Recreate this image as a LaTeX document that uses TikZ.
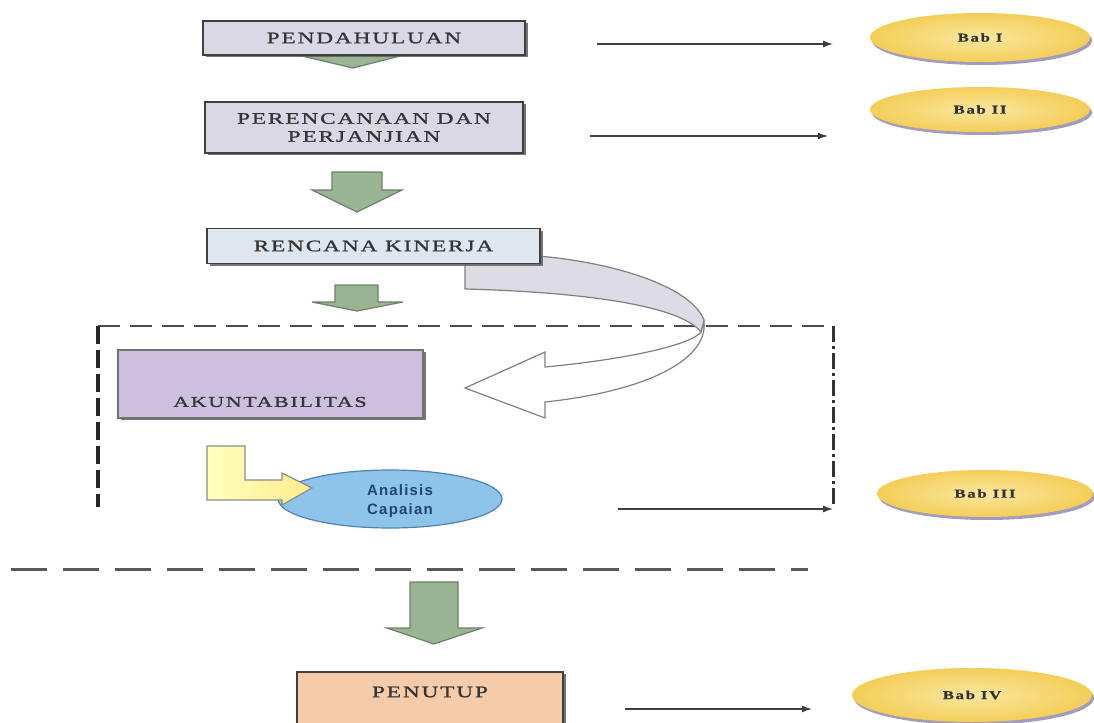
\documentclass[tikz,border=0pt]{standalone}
\usepackage{fontspec}
\setmainfont{Liberation Serif}
\newfontfamily\boxfont[FakeStretch=1.45,LetterSpace=12,FakeBold=1.3]{Liberation Serif}
\newfontfamily\babfont[FakeStretch=1.4,LetterSpace=14,FakeBold=0.8]{Liberation Serif}
\newfontfamily\anfont[LetterSpace=8]{Liberation Sans}
\usetikzlibrary{shapes.geometric,shadows,arrows.meta}
\definecolor{boxgray}{HTML}{D9D8E4}
\definecolor{boxblue}{HTML}{DEE6EF}
\definecolor{boxlav}{HTML}{CCBFE0}
\definecolor{boxpeach}{HTML}{F5CBAA}
\definecolor{greenfill}{HTML}{9AB594}
\definecolor{greenline}{HTML}{6E806B}
\definecolor{babin}{HTML}{F9E6A0}
\definecolor{babout}{HTML}{F3CE58}
\definecolor{babshadow}{HTML}{9A92B6}
\definecolor{anblue}{HTML}{8EC4EA}
\definecolor{anline}{HTML}{4F82B3}
\definecolor{antext}{HTML}{23446C}
\definecolor{txt}{HTML}{353535}
\definecolor{bandfill}{HTML}{DCDBE6}
\tikzset{
  stagebox/.style={draw=black!75, line width=0.7pt, rectangle, inner sep=0pt,
    drop shadow={shadow xshift=1.4pt, shadow yshift=-1.2pt, fill=black!60, opacity=0.9},
    text=txt, font=\boxfont\fontsize{8}{9}\selectfont, align=center},
  babnode/.style={ellipse, inner sep=0pt, inner color=babin, outer color=babout,
    drop shadow={shadow xshift=1pt, shadow yshift=-1.5pt, fill=babshadow, opacity=0.9},
    text=black!80, font=\babfont\bfseries\fontsize{6}{7}\selectfont},
  blockarrow/.style={fill=greenfill, draw=greenline, line width=0.6pt},
  pointer/.style={draw=black!75, line width=0.6pt, -{Latex[length=5pt,width=3.5pt]}},
}
\begin{document}
\begin{tikzpicture}[x=0.5pt,y=-0.5pt]
\clip (0,0) rectangle (1094,723);
\fill[white] (0,0) rectangle (1094,723);

% green block arrows
\draw[blockarrow] (302,56) -- (400,56) -- (353,68) -- cycle;
\draw[blockarrow] (332,172) -- (382,172) -- (382,190) -- (402,190) -- (357,212) -- (312,190) -- (332,190) -- cycle;
\draw[blockarrow] (335,285) -- (378,285) -- (378,302) -- (403,302) -- (357,311) -- (312,302) -- (335,302) -- cycle;
\draw[blockarrow] (410,582) -- (458,582) -- (458,628) -- (482,628) -- (434,644) -- (387,628) -- (410,628) -- cycle;

% dashed frame
\coordinate (ftl) at (98,326);
\coordinate (ftr) at (833,326);
\coordinate (fbl) at (98,507);
\coordinate (fbr) at (833,505);
\draw[black!70, line width=1.1pt, dash pattern=on 11pt off 5pt] (ftl) -- (ftr);
\draw[black!85, line width=2pt, dash pattern=on 9pt off 3pt] (ftl) -- (fbl);
\draw[black!80, line width=1.5pt, dash pattern=on 8pt off 2pt on 1.5pt off 2pt] (ftr) -- (fbr);

% separator
\coordinate (sepl) at (11,569);
\coordinate (sepr) at (808,569);
\draw[black!65, line width=1.5pt, dash pattern=on 18pt off 8pt] (sepl) -- (sepr);

% curved arrow (white part)
\draw[fill=white, draw=black!50, line width=0.6pt]
  (704,322) .. controls (708,362) and (640,392) .. (545,402)
  -- (545,418) -- (465,388) -- (545,352) -- (545,367)
  .. controls (620,360) and (690,346) .. (701,332) -- cycle;
% curved band
\draw[fill=bandfill, draw=black!50, line width=0.6pt]
  (465,258) -- (465,289) .. controls (580,292) and (680,305) .. (701,332)
  -- (704,320) .. controls (690,285) and (610,262) .. (538,256) -- cycle;

% stage boxes
\node[stagebox, fill=boxgray, minimum width=161pt, minimum height=17pt] (pend) at (364,38) {PENDAHULUAN};
\node[stagebox, fill=boxgray, minimum width=159pt, minimum height=25.5pt] (peren) at (364,127.5) {PERENCANAAN DAN\\PERJANJIAN};
\node[stagebox, fill=boxblue, minimum width=166.5pt, minimum height=17.5pt] (renc) at (373.5,246) {RENCANA KINERJA};
\node[stagebox, fill=boxlav, draw=black!55, minimum width=152.5pt, minimum height=34pt] (akun) at (270.5,384) {};
\node[text=txt, font=\boxfont\fontsize{7.5}{9}\selectfont] (akuntxt) at (270,402) {AKUNTABILITAS};
\node[stagebox, fill=boxpeach, minimum width=133pt, minimum height=40pt] (penut) at (430,712) {};
\node[text=txt, font=\boxfont\fontsize{8}{9}\selectfont] (penuttxt) at (430,692) {PENUTUP};

% analisis ellipse and L arrow
\node[ellipse, fill=anblue, draw=anline, line width=0.6pt, minimum width=112pt, minimum height=29pt, inner sep=0pt] (anal) at (390,499) {};
\node[text=antext, font=\anfont\bfseries\fontsize{7.5}{9.5}\selectfont, align=center] (analtxt) at (400,501) {Analisis\\Capaian};
\draw[left color=yellow!25!white, right color=orange!35!yellow!45, draw=black!45, line width=0.6pt]
  (207,446) -- (245,446) -- (245,480) -- (282,480) -- (282,473) -- (312,488) -- (282,505) -- (282,500) -- (207,500) -- cycle;

% Bab ellipses
\node[babnode, minimum width=110pt, minimum height=24.5pt] (bab1) at (980,37.5) {Bab I};
\node[babnode, minimum width=110pt, minimum height=22.5pt] (bab2) at (980,109.5) {Bab II};
\node[babnode, minimum width=108pt, minimum height=23.5pt] (bab3) at (985,493.5) {Bab III};
\node[babnode, minimum width=120pt, minimum height=27pt] (bab4) at (972,695) {Bab IV};

% pointers
\coordinate (p1s) at (597,44);  \coordinate (p1e) at (833,44);
\coordinate (p2s) at (590,136); \coordinate (p2e) at (828,136);
\coordinate (p3s) at (618,509); \coordinate (p3e) at (833,509);
\coordinate (p4s) at (625,709); \coordinate (p4e) at (812,709);
\draw[pointer] (p1s) -- (p1e);
\draw[pointer] (p2s) -- (p2e);
\draw[pointer] (p3s) -- (p3e);
\draw[pointer] (p4s) -- (p4e);
\end{tikzpicture}
\end{document}
